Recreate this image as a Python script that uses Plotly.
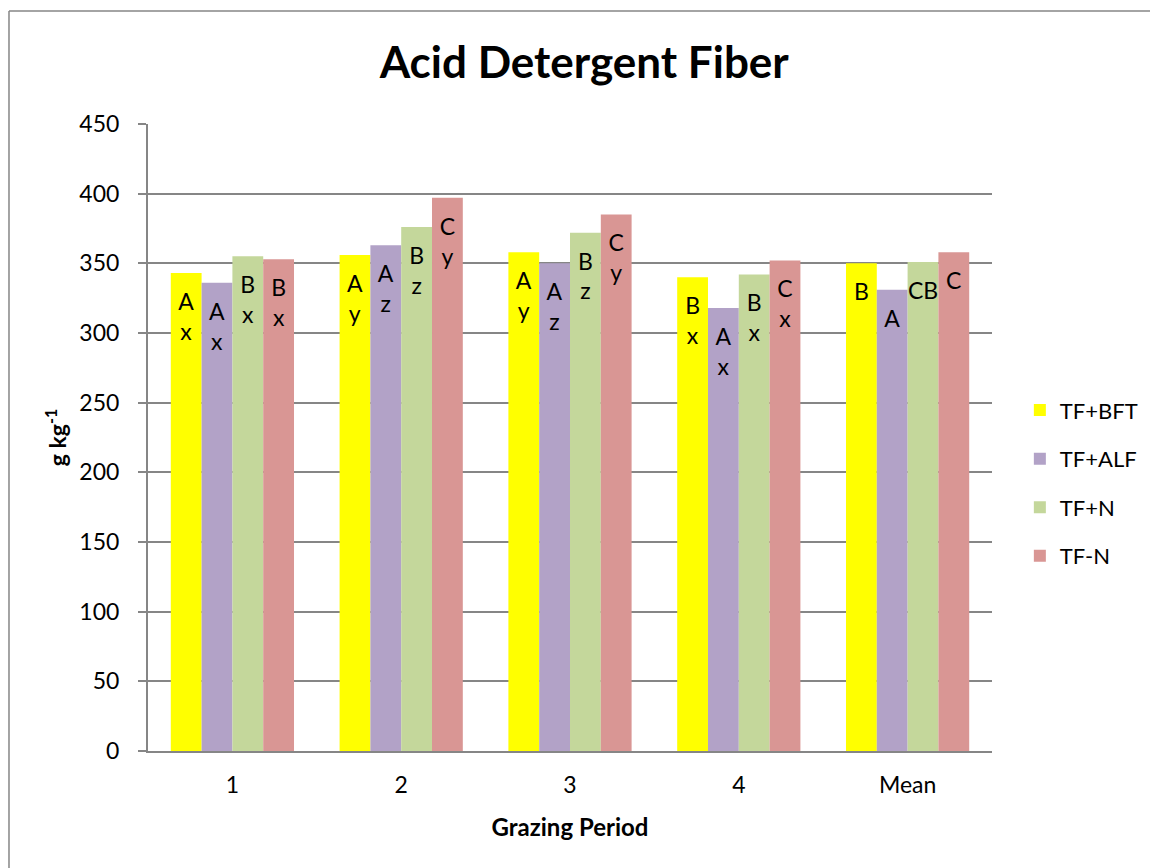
import plotly.graph_objects as go

categories = ["1", "2", "3", "4", "Mean"]
series_names = ["TF+BFT", "TF+ALF", "TF+N", "TF-N"]
tf_bft = [343, 356, 358, 340, 350]
tf_alf = [336, 363, 350, 318, 331]
tf_n = [355, 376, 372, 342, 351]
tf_minus_n = [353, 397, 385, 352, 358]
labels_bft = ["A<br>x", "A<br>y", "A<br>y", "B<br>x", "B"]
labels_alf = ["A<br>x", "A<br>z", "A<br>z", "A<br>x", "A"]
labels_n = ["B<br>x", "B<br>z", "B<br>z", "B<br>x", "CB"]
labels_mn = ["B<br>x", "C<br>y", "C<br>y", "C<br>x", "C"]
y_ticks = [0, 50, 100, 150, 200, 250, 300, 350, 400, 450]

colors = ["#FFFF00", "#B2A2C7", "#C4D79B", "#D99694"]
values = [tf_bft, tf_alf, tf_n, tf_minus_n]
labels = [labels_bft, labels_alf, labels_n, labels_mn]

FONT = "Lato, 'Open Sans', sans-serif"
SPACER = "<span style='font-size:4px;color:rgba(0,0,0,0)'>.</span><br>"

fig = go.Figure()
for name, vals, lab, col in zip(series_names, values, labels, colors):
    fig.add_trace(go.Bar(
        x=categories, y=vals, name=name, legendgroup=name,
        marker=dict(color=col, line=dict(width=0)),
        text=[SPACER + t for t in lab],
        textposition="inside", insidetextanchor="end",
        textangle=0, constraintext="none",
        textfont=dict(family=FONT, size=23, color="black"),
        hoverinfo="skip",
    ))

grid = "#868686"
fig.update_layout(
    width=1150, height=868,
    paper_bgcolor="white", plot_bgcolor="white",
    barmode="group", bargap=0.27, bargroupgap=0,
    margin=dict(l=148, r=158, t=124, b=117, autoexpand=False),
    font=dict(family=FONT, color="black"),
    title=dict(text="<b>Acid Detergent Fiber</b>", x=0.508, xanchor="center",
               y=0.928, yanchor="middle",
               font=dict(family=FONT, size=44, color="black")),
    legend=dict(x=1.033, y=0.427, xanchor="left", yanchor="middle",
                font=dict(family=FONT, size=22, color="black"),
                itemwidth=30, tracegroupgap=17, traceorder="grouped"),
    xaxis=dict(showline=True, linecolor=grid, linewidth=2, showgrid=False,
               ticks="outside", ticklen=12, tickcolor="rgba(0,0,0,0)",
               tickfont=dict(family=FONT, size=23, color="black"),
               title=dict(text="<b>Grazing Period</b>", standoff=23,
                          font=dict(family=FONT, size=24, color="black"))),
    yaxis=dict(range=[0, 450], tickvals=y_ticks, showline=True, linecolor=grid,
               linewidth=2, showgrid=True, gridcolor=grid, gridwidth=1.5,
               ticks="outside", ticklen=8, tickcolor=grid, tickwidth=1.5,
               ticklabelstandoff=14,
               tickfont=dict(family=FONT, size=23, color="black"),
               title=dict(text="<b>g kg<sup>-1</sup></b>", standoff=6,
                          font=dict(family=FONT, size=23, color="black")),
               zeroline=False),
    shapes=[
        dict(type="line", xref="paper", yref="paper", x0=-0.1647, x1=-0.1647,
             y0=1.1802, y1=-0.3, line=dict(color=grid, width=1.5)),
        dict(type="line", xref="paper", yref="paper", x0=-0.1647, x1=1.3,
             y0=1.1802, y1=1.1802, line=dict(color=grid, width=1.5)),
    ],
)
fig.write_html("out.html", config={"displayModeBar": False},
               post_script="document.body.style.margin='0';document.body.style.padding='0';")
